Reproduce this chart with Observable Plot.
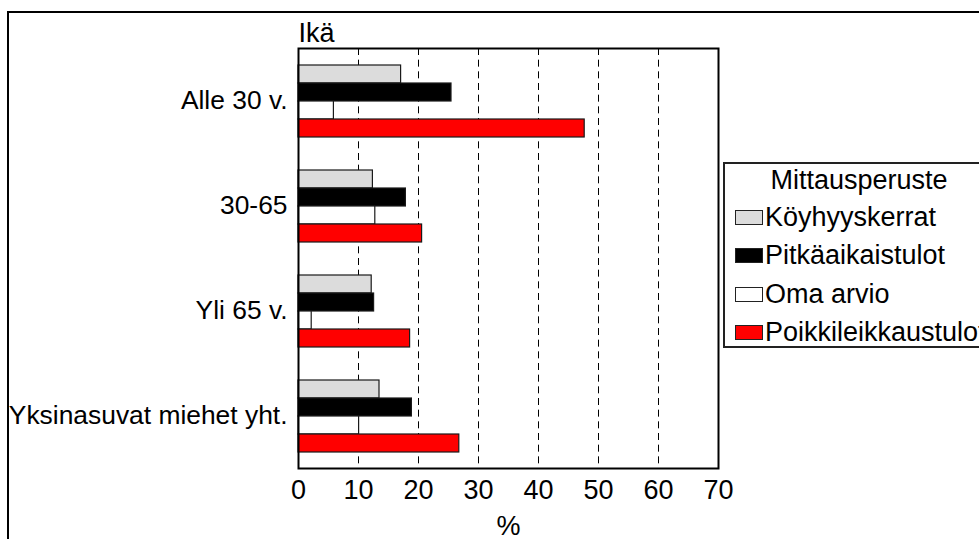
<!DOCTYPE html>
<html>
<head>
<meta charset="utf-8">
<script src="https://cdn.jsdelivr.net/npm/d3@7"></script>
<script src="https://cdn.jsdelivr.net/npm/@observablehq/plot@0.6"></script>
<style>
  html, body { margin: 0; padding: 0; background: #fff; overflow: hidden; }
  #wrap { position: relative; width: 979px; height: 539px; overflow: hidden; font-family: "Liberation Sans", Arial, sans-serif; }
  #outer { position: absolute; left: 7px; top: 11px; width: 1100px; height: 700px; border: 2px solid #000; box-sizing: border-box; pointer-events: none; }
  #chart { position: absolute; left: 0; top: 0; }
  #legend { position: absolute; left: 723px; top: 162px; width: 272px; height: 186px; border: 2px solid #222; box-sizing: border-box; background: #fff; font-size: 27px; color: #000; }
  #legend .title { position: absolute; left: 0; width: 100%; text-align: center; top: 1px; line-height: 30px; white-space: nowrap; }
  #legend .row { position: absolute; left: 10px; height: 30px; display: flex; align-items: center; white-space: nowrap; }
  #legend .sw { width: 28px; height: 15px; border: 1px solid #222; box-sizing: border-box; margin-right: 2px; flex: none; }
</style>
</head>
<body>
<div id="wrap">
  <div id="chart"></div>
  <div id="legend"></div>
  <div id="outer"></div>
</div>
<script>
// ---- data ----
const groups = ["Alle 30 v.", "30-65", "Yli 65 v.", "Yksinasuvat miehet yht."];
const series = ["Köyhyyskerrat", "Pitkäaikaistulot", "Oma arvio", "Poikkileikkaustulot"];
const koyhyyskerrat = [17.1, 12.4, 12.2, 13.5];
const pitkaaikaistulot = [25.5, 17.9, 12.6, 18.9];
const omaArvio = [5.9, 12.8, 2.2, 10.1];
const poikkileikkaustulot = [47.7, 20.6, 18.6, 26.8];
const xTicks = [0, 10, 20, 30, 40, 50, 60, 70];
const gridTicks = [10, 20, 30, 40, 50, 60];
const colors = ["#dcdcdc", "#000000", "#ffffff", "#ff0000"];
const titleText = "Ikä";
const legendTitle = "Mittausperuste";
const xLabel = "%";

const seriesValues = [koyhyyskerrat, pitkaaikaistulot, omaArvio, poikkileikkaustulot];
const data = [];
groups.forEach((g, gi) => {
  series.forEach((s, si) => {
    data.push({group: g, series: s, value: seriesValues[si][gi]});
  });
});

const plot = Plot.plot({
  width: 979,
  height: 539,
  marginLeft: 298,
  marginRight: 261,
  marginTop: 48,
  marginBottom: 71,
  style: {fontFamily: "'Liberation Sans', Arial, sans-serif", fontSize: "27px", background: "transparent", color: "#000"},
  x: {domain: [0, 70], ticks: xTicks, tickSize: 0, tickPadding: 11, label: xLabel, labelAnchor: "center", labelOffset: 66, labelArrow: "none", tickFormat: d => String(d)},
  fy: {domain: groups, padding: 0},
  y: {domain: series, paddingInner: 0, paddingOuter: 0.86, axis: null},
  color: {domain: series, range: colors},
  marks: [
    Plot.axisFy({anchor: "left", fontSize: 26.4, tickSize: 0, tickPadding: 11, label: null}),
    Plot.ruleX(gridTicks, {x: d => d, stroke: "#000", strokeWidth: 1, strokeDasharray: "7,4.667"}),
    Plot.barX(data, {fy: "group", y: "series", x: "value", fill: "series", stroke: "#1a1a1a", strokeWidth: 1.2}),
    Plot.frame({stroke: "#000", strokeWidth: 2, facet: "super"}),
    Plot.text([titleText], {text: d => d, frameAnchor: "top-left", textAnchor: "start", lineAnchor: "bottom", dy: -7, facet: "super", fontSize: 27})
  ]
});
document.getElementById("chart").appendChild(plot);

// legend
const leg = document.getElementById("legend");
const t = document.createElement("div");
t.className = "title";
t.textContent = legendTitle;
leg.appendChild(t);
series.forEach((s, i) => {
  const row = document.createElement("div");
  row.className = "row";
  row.style.top = (38 + i * 38.5) + "px";
  const sw = document.createElement("span");
  sw.className = "sw";
  sw.style.background = colors[i];
  const lab = document.createElement("span");
  lab.textContent = s;
  row.appendChild(sw);
  row.appendChild(lab);
  leg.appendChild(row);
});
</script>
</body>
</html>
